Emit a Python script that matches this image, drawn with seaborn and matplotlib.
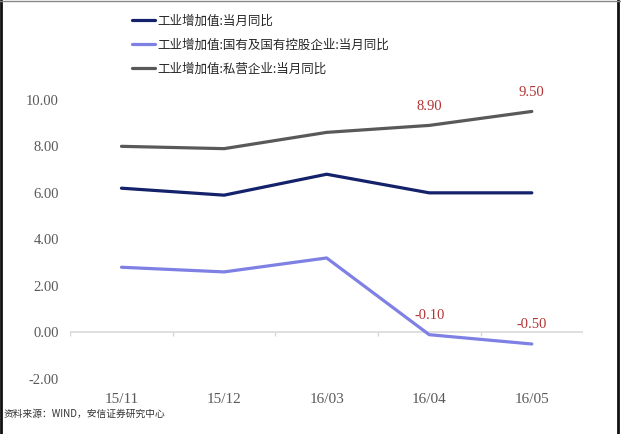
import pandas as pd
import seaborn as sns
import matplotlib.pyplot as plt
from matplotlib.lines import Line2D

# Data
months = ["15/11", "15/12", "16/03", "16/04", "16/05"]
series_names = ["工业增加值:当月同比",
                "工业增加值:国有及国有控股企业:当月同比",
                "工业增加值:私营企业:当月同比"]
total = [6.2, 5.9, 6.8, 6.0, 6.0]
state_owned = [2.8, 2.6, 3.2, -0.1, -0.5]
private = [8.0, 7.9, 8.6, 8.9, 9.5]
y_ticks = [-2, 0, 2, 4, 6, 8, 10]

# labelled points: (series, month index)
labelled = [(private, 3), (private, 4), (state_owned, 3), (state_owned, 4)]

colors = ["#14216b", "#7f80e3", "#595959"]

df = pd.DataFrame({
    "月份": months * 3,
    "值": total + state_owned + private,
    "系列": [s for s in series_names for _ in months],
})
df["pos"] = df["月份"].map({m: i for i, m in enumerate(months)})

sns.set_theme(style="white")
plt.rcParams["font.family"] = ["Noto Sans CJK SC", "DejaVu Sans"]

fig = plt.figure(figsize=(6.21, 4.34), dpi=100)
ax = fig.add_axes([0.113, 0.127, 0.826, 0.643])

sns.lineplot(data=df, x="pos", y="值", hue="系列", hue_order=series_names,
             palette=colors, linewidth=2.3, ax=ax, legend=False, sort=False)

ax.set_xlim(-0.5, len(months) - 0.5)
ax.set_ylim(-2, 10)
for s in ax.spines.values():
    s.set_visible(False)

# zero line with category separators
ax.axhline(0, color="#d9d9d9", linewidth=1.2, zorder=0)
ax.vlines([i - 0.5 for i in range(len(months) + 1)], -0.15, 0,
          color="#d9d9d9", linewidth=1.0, zorder=0)

ax.set_xticks(range(len(months)))
ax.set_xticklabels(months, family="Liberation Serif", fontsize=11, color="#595959")
ax.set_yticks(y_ticks)
ax.set_yticklabels([f"{v:.2f}" for v in y_ticks], family="Liberation Serif",
                   fontsize=10.5, color="#595959")
ax.tick_params(axis="x", length=0, pad=10)
ax.tick_params(axis="y", length=0, pad=8)
ax.set_xlabel("")
ax.set_ylabel("")

for vals, i in labelled:
    ax.annotate(f"{vals[i]:.2f}", (i, vals[i]), xytext=(0, 9),
                textcoords="offset points", ha="center", va="bottom",
                family="Liberation Serif", fontsize=10.5, color="#b23333")

handles = [Line2D([], [], color=c, linewidth=2.3) for c in colors]
fig.legend(handles, series_names, loc="upper left",
           bbox_to_anchor=(0.205, 0.978), frameon=False, fontsize=9,
           handlelength=1.8, handletextpad=0.2, labelspacing=0.88,
           borderaxespad=0)

fig.text(0.006, 0.04, "资料来源：WIND，安信证券研究中心", fontsize=7, color="#333333")

# picture frame
fig.add_artist(Line2D([0.002, 0.002], [0, 1], color="#111111", linewidth=2))
fig.add_artist(Line2D([0.995, 0.995], [0, 1], color="#111111", linewidth=2))
fig.add_artist(Line2D([0, 1], [0.998, 0.998], color="#888888", linewidth=1))

fig.savefig("out.png", dpi=100)
